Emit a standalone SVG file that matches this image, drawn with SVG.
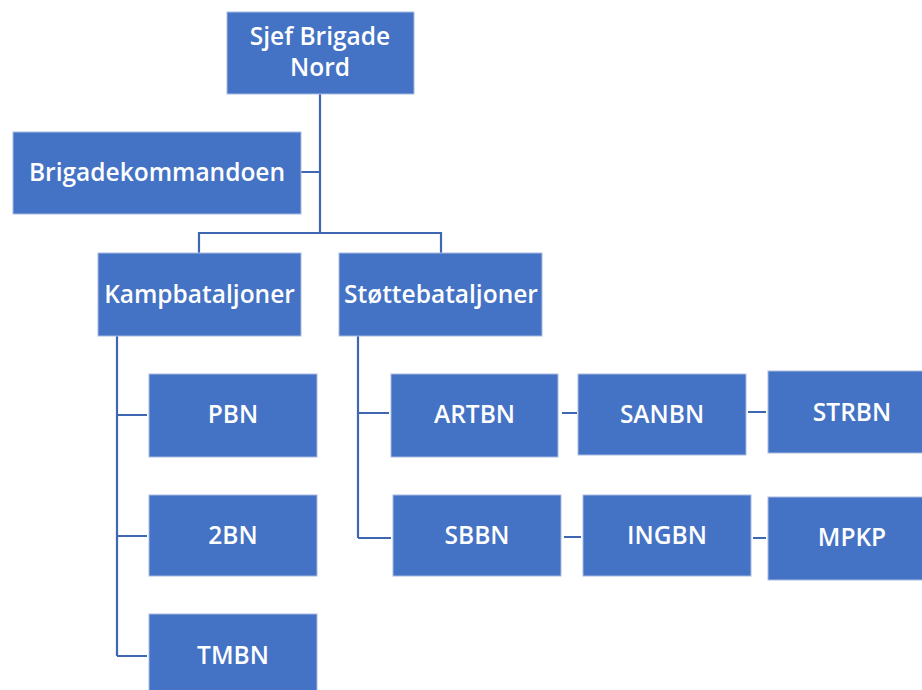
<svg xmlns="http://www.w3.org/2000/svg" width="922" height="690" viewBox="0 0 922 690">
<style>
.box{fill:#4472C4;stroke:#A9BCE2;stroke-width:1}
.t{fill:#FFFFFF;font-family:"Open Sans","Liberation Sans",Arial,sans-serif;font-size:24.5px;font-weight:600;text-anchor:middle}
.c{fill:none;stroke:#3F66B0;stroke-width:2.2}
</style>
<rect width="922" height="690" fill="#FFFFFF"/>
<g id="connectors">
<path class="c" d="M320,94 V233 M301,172 H320 M199,253 V233 H441 V253"/>
<path class="c" d="M117,336 V656 M117,415 H147 M117,536 H147 M117,656 H147"/>
<path class="c" d="M358,336 V538 M358,413 H389 M358,538 H391"/>
<path class="c" d="M562,413 H577 M748,412 H766 M564,537 H581 M753,538 H766"/>
</g>
<g id="sjef"><rect class="box" x="227" y="12" width="187" height="82"/><text class="t" x="320" y="45">Sjef Brigade</text><text class="t" x="320" y="76">Nord</text></g>
<g id="brigadekommandoen"><rect class="box" x="13" y="132" width="288" height="82"/><text class="t" x="157" y="181">Brigadekommandoen</text></g>
<g id="kampbataljoner"><rect class="box" x="98" y="253" width="203" height="83"/><text class="t" x="199.5" y="303">Kampbataljoner</text></g>
<g id="stottebataljoner"><rect class="box" x="339" y="253" width="203" height="83"/><text class="t" x="441" y="303">Støttebataljoner</text></g>
<g id="pbn"><rect class="box" x="149" y="374" width="168" height="83"/><text class="t" x="233" y="423">PBN</text></g>
<g id="bn2"><rect class="box" x="149" y="495" width="168" height="81"/><text class="t" x="233" y="544">2BN</text></g>
<g id="tmbn"><rect class="box" x="149" y="614" width="168" height="84"/><text class="t" x="233" y="664">TMBN</text></g>
<g id="artbn"><rect class="box" x="391" y="374" width="167" height="83"/><text class="t" x="474.5" y="423">ARTBN</text></g>
<g id="sanbn"><rect class="box" x="578" y="374" width="168" height="81"/><text class="t" x="662" y="423">SANBN</text></g>
<g id="strbn"><rect class="box" x="768" y="371" width="170" height="82"/><text class="t" x="852" y="421">STRBN</text></g>
<g id="sbbn"><rect class="box" x="393" y="495" width="168" height="81"/><text class="t" x="477" y="544">SBBN</text></g>
<g id="ingbn"><rect class="box" x="583" y="495" width="168" height="81"/><text class="t" x="667" y="544">INGBN</text></g>
<g id="mpkp"><rect class="box" x="768" y="497" width="170" height="83"/><text class="t" x="852" y="546">MPKP</text></g>
</svg>
